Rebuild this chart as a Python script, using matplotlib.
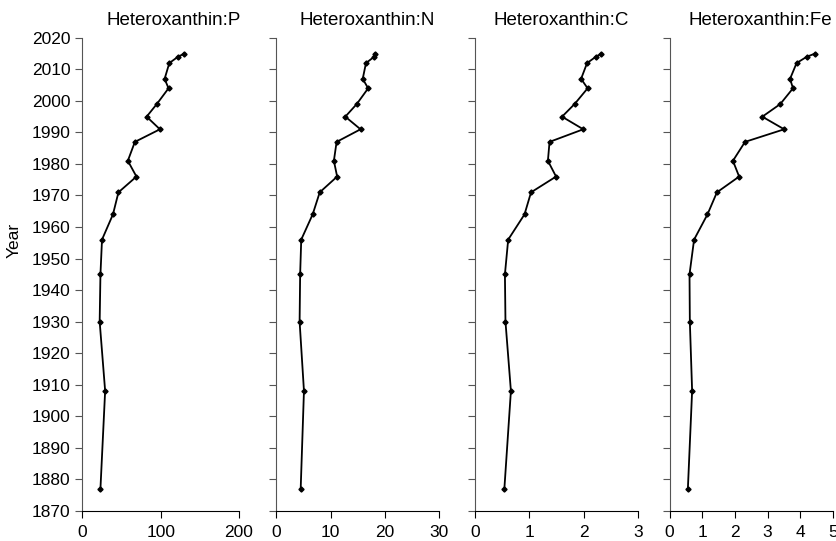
import matplotlib.pyplot as plt

plt.rcParams['font.family'] = ['Liberation Sans', 'DejaVu Sans']

years = [2015, 2014, 2012, 2007, 2004, 1999, 1995, 1991, 1987, 1981, 1976,
         1971, 1964, 1956, 1945, 1930, 1908, 1877]

ratio_p = [130, 122, 111, 105, 110, 95, 82, 99, 67, 58, 69, 46, 39, 25, 23, 22, 29, 23]
ratio_n = [18.1, 18.0, 16.5, 15.9, 16.9, 14.8, 12.7, 15.5, 11.1, 10.6, 11.2,
           8.0, 6.7, 4.6, 4.4, 4.3, 5.1, 4.5]
ratio_c = [2.32, 2.22, 2.06, 1.95, 2.07, 1.83, 1.60, 1.99, 1.37, 1.34, 1.49,
           1.03, 0.91, 0.61, 0.55, 0.56, 0.66, 0.54]
ratio_fe = [4.45, 4.20, 3.89, 3.69, 3.78, 3.39, 2.84, 3.51, 2.31, 1.94, 2.13,
            1.45, 1.16, 0.75, 0.61, 0.62, 0.69, 0.56]

titles = ["Heteroxanthin:P", "Heteroxanthin:N", "Heteroxanthin:C", "Heteroxanthin:Fe"]
series = [ratio_p, ratio_n, ratio_c, ratio_fe]
xlims = [200, 30, 3, 5]
xticks = [[0, 100, 200], [0, 10, 20, 30], [0, 1, 2, 3], [0, 1, 2, 3, 4, 5]]
lefts = [0.0985, 0.330, 0.5675, 0.800]
widths = [0.187, 0.195, 0.195, 0.195]
title_x = [0.58, 0.56, 0.53, 0.555]

fig = plt.figure(figsize=(8.37, 5.41), dpi=100)

for i in range(4):
    ax = fig.add_axes([lefts[i], 0.056, widths[i], 0.874])
    ax.plot(series[i], years, color="black", linewidth=1.3,
            marker="D", markersize=2.6)
    ax.set_xlim(0, xlims[i])
    ax.set_ylim(1870, 2020)
    ax.set_xticks(xticks[i])
    ax.set_yticks(range(1870, 2021, 10))
    ax.spines['top'].set_visible(False)
    ax.spines['right'].set_visible(False)
    ax.spines['left'].set_color("#555555")
    ax.tick_params(direction="out", length=5, labelsize=12.5, colors="black")
    ax.tick_params(axis="y", color="#555555")
    ax.tick_params(axis="x", pad=5)
    ax.set_title(titles[i], fontsize=13.5, pad=9, x=title_x[i])
    if i == 0:
        ax.set_ylabel("Year", fontsize=12.5)
        ax.yaxis.set_label_coords(-0.39, 0.571)
    else:
        ax.set_yticklabels([])

plt.savefig("out.png", dpi=100)
